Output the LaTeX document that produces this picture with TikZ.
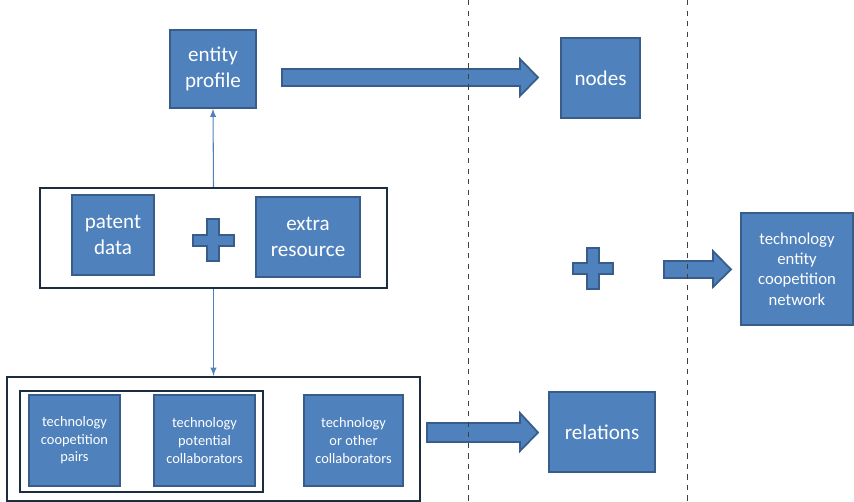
\documentclass[tikz,border=0pt]{standalone}
\usepackage{fontspec}
\newfontfamily\calfont{Carlito}
\usetikzlibrary{arrows}

\definecolor{boxblue}{HTML}{4F81BD}
\definecolor{boxedge}{HTML}{385D8A}
\definecolor{framecol}{HTML}{1D2D40}

\tikzset{
  box/.style={draw=boxedge, fill=boxblue, line width=1pt, text=white, align=center, inner sep=0pt, font=\calfont\fontsize{12}{15}\selectfont},
  smallbox/.style={box, font=\calfont\fontsize{8.2}{10}\selectfont},
  frame/.style={draw=framecol, line width=1.4pt, inner sep=0pt},
  blockarrow/.style={draw=boxedge, fill=boxblue, line width=1pt, line join=miter},
  link/.style={draw=boxblue, line width=0.6pt},
  divider/.style={draw=black!75, dashed, line width=0.5pt}
}

\begin{document}
\begin{tikzpicture}[x=0.02cm, y=-0.02cm]
\useasboundingbox (0,0) rectangle (854,502);

% frames
\node[frame, minimum width=6.94cm, minimum height=2cm] (src) at (213.5,238) {};
\node[frame, minimum width=8.26cm, minimum height=2.48cm] (rel) at (213.5,439) {};
\node[frame, minimum width=4.86cm, minimum height=2.02cm] (coop) at (141.5,441.5) {};

% boxes
\node[box, minimum width=1.72cm, minimum height=1.56cm] (profile) at (213,69) {entity\\profile};
\node[box, minimum width=1.58cm, minimum height=1.6cm] (nodes) at (600.5,78) {nodes};
\node[box, minimum width=1.64cm, minimum height=1.6cm] (patent) at (113,235) {patent\\data};
\node[box, minimum width=2.08cm, minimum height=1.6cm] (extra) at (308,237) {extra\\resource};
\node[smallbox, minimum width=1.82cm, minimum height=1.82cm] (pairs) at (74.5,440.5) {technology\\coopetition\\pairs};
\node[smallbox, minimum width=2.02cm, minimum height=1.82cm] (potential) at (204.5,440.5) {technology\\potential\\collaborators};
\node[smallbox, minimum width=1.98cm, minimum height=1.82cm] (other) at (353.5,440.5) {technology\\or other\\collaborators};
\node[box, minimum width=2.12cm, minimum height=1.6cm] (relations) at (602,432) {relations};
\node[box, minimum width=2.24cm, minimum height=2.24cm, font=\calfont\fontsize{9.5}{11.5}\selectfont] (network) at (797,269) {technology\\entity\\coopetition\\network};

% plus signs
\draw[blockarrow] (207,219) -- (219,219) -- (219,235) -- (234,235) -- (234,246) -- (219,246) -- (219,261) -- (207,261) -- (207,246) -- (193,246) -- (193,235) -- (207,235) -- cycle;
\draw[blockarrow] (587,248) -- (599,248) -- (599,263) -- (613,263) -- (613,274) -- (599,274) -- (599,289) -- (587,289) -- (587,274) -- (573,274) -- (573,263) -- (587,263) -- cycle;

% block arrows
\draw[blockarrow] (282,69) -- (520,69) -- (520,59) -- (538,77.5) -- (520,96) -- (520,86) -- (282,86) -- cycle;
\draw[blockarrow] (664,261) -- (713,261) -- (713,251) -- (731,269.5) -- (713,287) -- (713,278) -- (664,278) -- cycle;
\draw[blockarrow] (427,423) -- (520,423) -- (520,413) -- (538,432.5) -- (520,451) -- (520,442) -- (427,442) -- cycle;

% links
\draw [link,->,>=latex] (src.north) -- (profile.south);
\draw [link,->,>=latex] (src.south) -- (rel.north);

% dividers
\draw[divider] (468,0) -- (468,502);
\draw[divider] (687,0) -- (687,502);
\end{tikzpicture}
\end{document}
